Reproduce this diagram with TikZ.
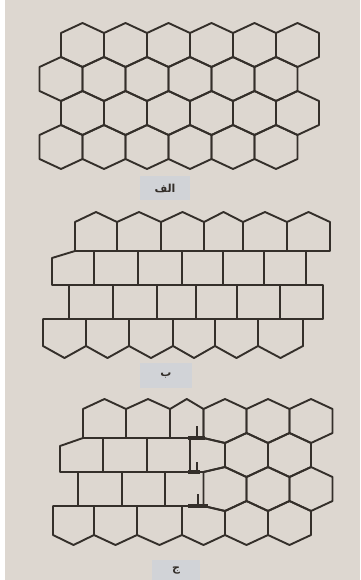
\documentclass[tikz,border=0pt]{standalone}
\usepackage{fontspec}
\newfontfamily\arabicfont[Script=Arabic]{DejaVu Sans}
\TeXXeTstate=1

\definecolor{paper}{RGB}{221,215,208}
\definecolor{tagbox}{RGB}{209,211,215}
\definecolor{ink}{RGB}{52,47,42}

\tikzset{
  cell/.style={draw=ink, line width=1.9pt, line join=round},
  slipbar/.style={draw=ink, line width=3.4pt},
  slipstub/.style={draw=ink, line width=2.4pt},
  tag/.style={fill=tagbox, font=\arabicfont\bfseries\fontsize{11}{13}\selectfont, text=ink, inner sep=0pt},
  hexcell/.pic={\draw[cell] (-21.5,-12) -- (0,-22) -- (21.5,-12) -- (21.5,12) -- (0,22) -- (-21.5,12) -- cycle;}
}

\begin{document}
\begin{tikzpicture}[x=1pt, y=-1pt]

    % Page
\useasboundingbox (0,0) rectangle (360,580);
\fill[white] (0,0) rectangle (5,580);
\fill[paper] (5,0) rectangle (360,580);

% Panel A: honeycomb
\foreach \yc/\xo in {45/82.5, 79/61, 113/82.5, 147/61}
  \foreach \k in {0,...,5}
    \pic at (\xo+43*\k,\yc) {hexcell};

% Panel B: tips flattened in the middle rows
% row 1, houses
\foreach \l/\r in {75/117, 117/161, 161/204, 204/243, 243/287, 287/330}
  \draw[cell] (\l,251) -- (\l,222) -- ({(\l+\r)/2},212) -- (\r,222) -- (\r,251) -- cycle;
% row 2, bricks
\draw[cell] (52,285) -- (52,258) -- (75,251) -- (94,251) -- (94,285) -- cycle;
\foreach \l/\r in {94/138, 138/182, 182/223, 223/264, 264/306}
  \draw[cell] (\l,251) rectangle (\r,285);
% row 3, bricks
\foreach \l/\r in {69/113, 113/157, 157/196, 196/237, 237/280, 280/323}
  \draw[cell] (\l,285) rectangle (\r,319);
% row 4, houses upside down
\foreach \l/\r in {43/86, 86/129, 129/173, 173/215, 215/258, 258/303}
  \draw[cell] (\l,319) -- (\l,346) -- ({(\l+\r)/2},358) -- (\r,346) -- (\r,319) -- cycle;

% Panel C: bricks on the left, honeycomb on the right
% left part
\foreach \l/\r in {83/126, 126/170, 170/203.5}
  \draw[cell] (\l,438) -- (\l,409) -- ({(\l+\r)/2},399) -- (\r,409) -- (\r,438) -- cycle;
\draw[cell] (60,472) -- (60,446) -- (83,438) -- (103,438) -- (103,472) -- cycle;
\foreach \l/\r in {103/147, 147/190}
  \draw[cell] (\l,438) rectangle (\r,472);
\draw[cell] (190,438) -- (203.5,438) -- (225,443) -- (225,467) -- (203.5,472) -- (190,472) -- cycle;
\foreach \l/\r in {78/122, 122/165, 165/203.5}
  \draw[cell] (\l,472) rectangle (\r,506);
\foreach \l/\r in {53/94, 94/137, 137/182}
  \draw[cell] (\l,506) -- (\l,535) -- ({(\l+\r)/2},545) -- (\r,535) -- (\r,506) -- cycle;
\draw[cell] (182,506) -- (203.5,506) -- (225,511) -- (225,535) -- (203.5,545) -- (182,535) -- cycle;
% right part
\draw[cell] (203.5,409) -- (225,399) -- (246.5,409) -- (246.5,433) -- (225,443) -- (203.5,438) -- cycle;
\draw[cell] (203.5,472) -- (225,467) -- (246.5,477) -- (246.5,501) -- (225,511) -- (203.5,506) -- cycle;
\foreach \xc in {268,311} {
  \pic at (\xc,421) {hexcell};
  \pic at (\xc,489) {hexcell};
}
\foreach \xc in {246.5,289.5} {
  \pic at (\xc,455) {hexcell};
  \pic at (\xc,523) {hexcell};
}
% slip marks
\draw[slipbar] (188,438) -- (205,438);
\draw[slipstub] (197,426) -- (197,438);
\draw[slipbar] (188,472) -- (200,472);
\draw[slipstub] (197,462) -- (197,472);
\draw[slipbar] (188,506) -- (208,506);
\draw[slipstub] (198,494) -- (198,506);

% Labels
\node[tag, minimum width=50pt, minimum height=24pt] (tagA) at (165,188) {\beginR الف\endR};
\node[tag, minimum width=52pt, minimum height=25pt] (tagB) at (166,375.5) {\beginR ب\endR};
\node[tag, minimum width=48pt, minimum height=20pt] (tagC) at (176,570) {\beginR ج\endR};

    \end{tikzpicture}
\end{document}
